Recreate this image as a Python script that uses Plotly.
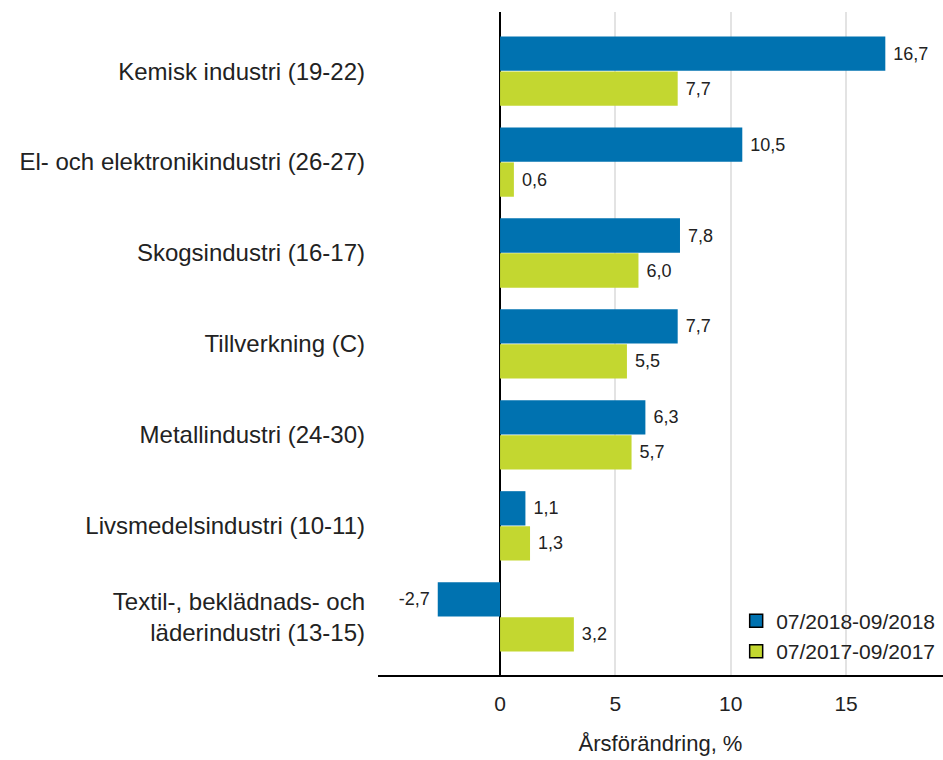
import plotly.graph_objects as go

categories = [
    "Kemisk industri (19-22)",
    "El- och elektronikindustri (26-27)",
    "Skogsindustri (16-17)",
    "Tillverkning (C)",
    "Metallindustri (24-30)",
    "Livsmedelsindustri (10-11)",
    "Textil-, beklädnads- och<br>läderindustri (13-15)",
]
series_2018 = [16.7, 10.5, 7.8, 7.7, 6.3, 1.1, -2.7]
series_2017 = [7.7, 0.6, 6.0, 5.5, 5.7, 1.3, 3.2]
series_names = ["07/2018-09/2018", "07/2017-09/2017"]
series_colors = ["#0072b0", "#c3d730"]
tick_vals = [0, 5, 10, 15]

font_family = "Liberation Sans, Arial, sans-serif"

fig = go.Figure()
for vals, name, color in zip([series_2018, series_2017], series_names, series_colors):
    # pad the label a little away from the bar end
    templates = [" %{x:.1f}" if v >= 0 else "%{x:.1f} " for v in vals]
    fig.add_trace(go.Bar(
        y=categories, x=vals, orientation="h",
        name=name, showlegend=False,
        marker=dict(color=color, line=dict(width=0)),
        texttemplate=templates, textposition="outside",
        constraintext="none",
        textfont=dict(size=18, color="#222222"),
        cliponaxis=False,
    ))

# legend entries with outlined squares, like the original
for name, color in zip(series_names, series_colors):
    fig.add_trace(go.Scatter(
        x=[None], y=[None], mode="markers", name=name,
        marker=dict(symbol="square", size=13, color=color,
                    line=dict(color="black", width=1.5)),
    ))

fig.update_layout(
    width=943, height=760,
    margin=dict(l=378, r=0, t=12, b=85),
    barmode="group", bargap=0.23, bargroupgap=0.02,
    separators=", ",
    plot_bgcolor="white", paper_bgcolor="white",
    font=dict(family=font_family, size=20, color="#222222"),
    showlegend=True,
    legend=dict(
        x=0.995, y=0.005, xanchor="right", yanchor="bottom",
        traceorder="normal", font=dict(size=21),
        bgcolor="rgba(0,0,0,0)", itemwidth=30, tracegroupgap=0,
    ),
    xaxis=dict(
        range=[-5.29, 19.2], tickvals=tick_vals,
        showgrid=True, gridcolor="#e3e3e3", gridwidth=1.5,
        zeroline=True, zerolinecolor="black", zerolinewidth=1.5,
        showline=True, linecolor="black", linewidth=1.5,
        ticks="", ticklabelstandoff=9,
        title=dict(text="Årsförändring, %", standoff=22, font=dict(size=22)),
        tickfont=dict(size=21),
    ),
    yaxis=dict(
        categoryorder="array", categoryarray=categories,
        range=[6.64, -0.65],
        showgrid=False, ticks="", ticklabelstandoff=12,
        tickfont=dict(size=24),
    ),
)

fig.write_html("out.html", config={"displayModeBar": False},
               post_script="document.body.style.margin='0';")
